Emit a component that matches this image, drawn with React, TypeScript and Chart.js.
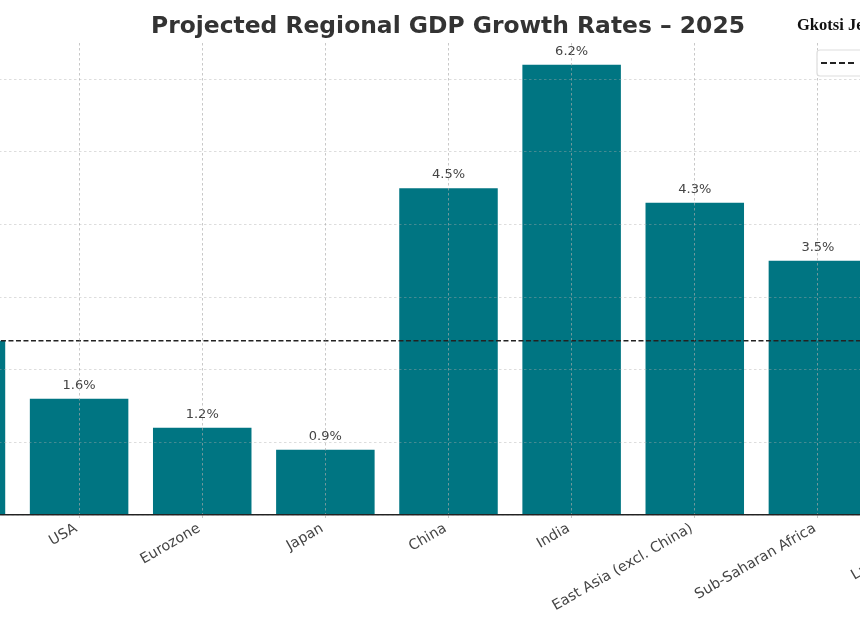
import { useEffect, useRef } from "react"
import { Chart, registerables, type Plugin } from "chart.js"

Chart.register(...registerables)

const regions = [
  "Global",
  "USA",
  "Eurozone",
  "Japan",
  "China",
  "India",
  "East Asia (excl. China)",
  "Sub-Saharan Africa",
  "Latin America",
]
const growth = [2.4, 1.6, 1.2, 0.9, 4.5, 6.2, 4.3, 3.5, 2.5]
const globalAverage = regions.map(() => 2.4)
const yTicks = [0, 1, 2, 3, 4, 5, 6]

const font = "DejaVu Sans"

const barLabels: Plugin = {
  id: "barLabels",
  afterDatasetsDraw(chart) {
    const { ctx } = chart
    const meta = chart.getDatasetMeta(0)
    ctx.save()
    ctx.font = `13px "${font}"`
    ctx.fillStyle = "#444"
    ctx.textAlign = "center"
    ctx.textBaseline = "bottom"
    meta.data.forEach((bar, i) => {
      ctx.fillText(`${growth[i]}%`, bar.x, bar.y - 7)
    })
    ctx.restore()
  },
}

// legend box and the signature both run off the right edge of the picture
const extras: Plugin = {
  id: "extras",
  afterDraw(chart) {
    const { ctx } = chart
    ctx.save()
    ctx.fillStyle = "#111"
    ctx.font = 'bold 16.5px "Liberation Serif"'
    ctx.textBaseline = "middle"
    ctx.fillText("Gkotsi Je", 997, 26)

    ctx.fillStyle = "rgba(255,255,255,0.9)"
    ctx.strokeStyle = "#ddd"
    ctx.lineWidth = 1.2
    ctx.beginPath()
    ctx.roundRect(1017, 50, 150, 26, 3)
    ctx.fill()
    ctx.stroke()

    ctx.strokeStyle = "#222"
    ctx.lineWidth = 1.8
    ctx.setLineDash([6, 3])
    ctx.beginPath()
    ctx.moveTo(1021, 63)
    ctx.lineTo(1054, 63)
    ctx.stroke()
    ctx.restore()
  },
}

export default function App() {
  const canvasRef = useRef<HTMLCanvasElement>(null)

  useEffect(() => {
    if (!canvasRef.current) return

    const chart = new Chart(canvasRef.current, {
      type: "bar",
      data: {
        labels: regions,
        datasets: [
          {
            type: "bar",
            data: growth,
            backgroundColor: "#007582",
            barPercentage: 0.8,
            categoryPercentage: 1,
            order: 2,
          },
          {
            type: "line",
            data: globalAverage,
            borderColor: "#222",
            borderWidth: 1.5,
            borderDash: [5, 2.5],
            pointRadius: 0,
            order: 1,
          },
        ],
      },
      options: {
        responsive: false,
        animation: false,
        layout: { padding: { left: 93.4, right: 93.4, top: 0, bottom: 0 } },
        plugins: {
          legend: { display: false },
          tooltip: { enabled: false },
          title: {
            display: true,
            text: "Projected Regional GDP Growth Rates – 2025",
            color: "#333",
            font: { family: font, size: 23.4, weight: "bold" },
            padding: { top: 13, bottom: 1.92 },
          },
        },
        scales: {
          x: {
            afterFit: (scale) => {
              scale.height = 115
            },
            grid: {
              offset: false,
              color: "rgba(170,170,170,0.65)",
              lineWidth: 1,
              tickLength: 3,
              z: 1,
            },
            border: { color: "#222", width: 1.5, dash: [2.5, 2.5], z: 1 },
            ticks: {
              color: "#444",
              font: { family: font, size: 14.3 },
              minRotation: 30,
              maxRotation: 30,
              autoSkip: false,
              padding: 2,
              labelOffset: -3,
            },
          },
          y: {
            min: 0,
            max: 6.5,
            afterFit: (scale) => {
              scale.width = 1
            },
            afterBuildTicks: (scale) => {
              scale.ticks = yTicks.map((value) => ({ value }))
            },
            grid: {
              color: "rgba(170,170,170,0.4)",
              lineWidth: 1,
              z: 1,
            },
            border: { display: false, dash: [2.5, 2.5] },
            ticks: { color: "#444", font: { family: font, size: 13 } },
          },
        },
      },
      plugins: [barLabels, extras],
    })

    return () => chart.destroy()
  }, [])

  return (
    <div style={{ position: "fixed", left: 0, top: 0, width: 860, height: 630, overflow: "hidden", background: "#fff" }}>
      <canvas ref={canvasRef} width={1296} height={630} style={{ position: "absolute", left: -200, top: 0 }} />
    </div>
  )
}
